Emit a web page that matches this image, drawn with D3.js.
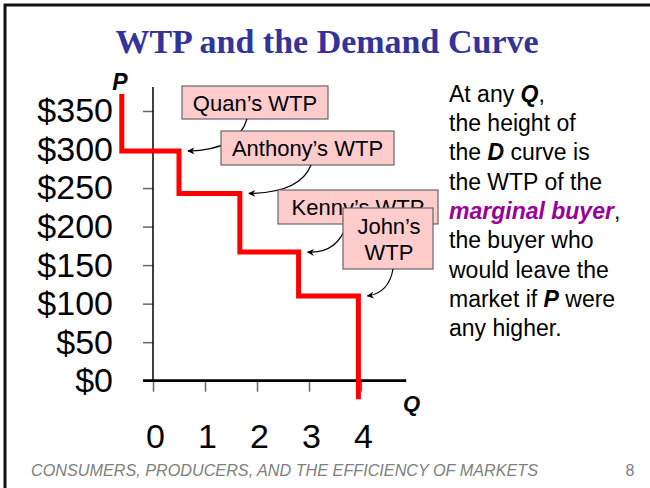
<!DOCTYPE html>
<html>
<head>
<meta charset="utf-8">
<title>WTP and the Demand Curve</title>
<script src="https://d3js.org/d3.v7.min.js"></script>
<style>
  body { margin: 0; background: #fff; }
  svg { display: block; font-family: "Liberation Sans", Arial, sans-serif; }
  .tick line { stroke: #666; stroke-width: 1.5; }
  .tick text { fill: #000; font-size: 34px; }
  .box rect { fill: #ffcccc; stroke: #666; stroke-width: 1.2; }
  .box text { font-size: 22px; fill: #000; text-anchor: middle; }
  .note { font-size: 23px; fill: #000; }
</style>
</head>
<body>
<svg id="chart" width="650" height="488"></svg>
<script>
// data
var qTicks = [0, 1, 2, 3, 4];
var pTicks = [0, 50, 100, 150, 200, 250, 300, 350];
// the step curve sits a little off the axis grid in the original
var stepQ = [-0.6, 0.5, 1.67, 2.8, 3.95];       // Q where each step drops
var stepP = [372, 298, 243, 167, 110, -24];     // P of each step (first = top, last = below axis)
var buyers = [["Quan\u2019s WTP"], ["Anthony\u2019s WTP"], ["Kenny\u2019s WTP"], ["John\u2019s", "WTP"]];

var noteLines = [
  [["At any ", ""], ["Q", "bi"], [",", ""]],
  [["the height of", ""]],
  [["the ", ""], ["D", "bi"], [" curve is", ""]],
  [["the WTP of the", ""]],
  [["marginal buyer", "mb"], [",", ""]],
  [["the buyer who", ""]],
  [["would leave the", ""]],
  [["market if ", ""], ["P", "bi"], [" were", ""]],
  [["any higher.", ""]]
];

var svg = d3.select("#chart");

// frame
svg.append("rect")
  .attr("x", 5).attr("y", 5).attr("width", 700).attr("height", 600)
  .attr("fill", "none").attr("stroke", "#111").attr("stroke-width", 3);

// title
svg.append("text")
  .attr("x", 327).attr("y", 53)
  .attr("text-anchor", "middle")
  .style("font-family", "'Liberation Serif', 'Times New Roman', serif")
  .style("font-weight", "bold").style("font-size", "34px")
  .attr("fill", "#333399")
  .text("WTP and the Demand Curve");

var x = d3.scaleLinear().domain([0, 4]).range([153, 361]);
var y = d3.scaleLinear().domain([0, 350]).range([380.7, 111]);

// y axis
var yAxis = svg.append("g")
  .attr("transform", "translate(" + x(0) + ",0)")
  .call(d3.axisLeft(y).tickValues(pTicks).tickSize(10).tickPadding(30)
    .tickFormat(function(d){ return "$" + d; }));
yAxis.select(".domain").remove();

svg.append("line")
  .attr("x1", x(0)).attr("x2", x(0))
  .attr("y1", y(0)).attr("y2", y(381))
  .attr("stroke", "#000").attr("stroke-width", 1.5);

// x axis
var xAxis = svg.append("g")
  .attr("transform", "translate(0," + y(0) + ")")
  .call(d3.axisBottom(x).tickValues(qTicks).tickSize(11).tickPadding(32)
    .tickFormat(d3.format("d")));
xAxis.select(".domain").remove();
xAxis.selectAll("text").attr("dx", 2);

svg.append("line")
  .attr("x1", x(0) - 10).attr("x2", x(4.87))
  .attr("y1", y(0)).attr("y2", y(0))
  .attr("stroke", "#000").attr("stroke-width", 2.8);

// axis letters
svg.append("text")
  .attr("x", 120).attr("y", 90).attr("text-anchor", "middle")
  .style("font-weight", "bold").style("font-style", "italic").style("font-size", "23px")
  .text("P");
svg.append("text")
  .attr("x", 403).attr("y", 411)
  .style("font-weight", "bold").style("font-style", "italic").style("font-size", "22px")
  .text("Q");

// demand steps
var verts = [];
stepQ.forEach(function(q, i){
  verts.push([q, stepP[i]]);
  verts.push([q, stepP[i + 1]]);
});
var line = d3.line()
  .x(function(d){ return x(d[0]); })
  .y(function(d){ return y(d[1]); });
svg.append("path")
  .attr("d", line(verts))
  .attr("fill", "none").attr("stroke", "#ff0000").attr("stroke-width", 5)
  .attr("stroke-linejoin", "miter");

// arrowhead
svg.append("defs").append("marker")
  .attr("id", "head").attr("viewBox", "0 0 10 10")
  .attr("refX", 9).attr("refY", 5)
  .attr("markerWidth", 7).attr("markerHeight", 7)
  .attr("markerUnits", "userSpaceOnUse")
  .attr("orient", "auto")
  .append("path").attr("d", "M0,0L10,5L0,10L3,5Z").attr("fill", "#000");

// callout boxes (layout) and arrows to each buyer's step
var boxes = [
  { x: 182, y: 86,  w: 146, h: 33, start: [247, 119], ctrl: [238, 150] },
  { x: 221, y: 131, w: 173, h: 34, start: [311, 165], ctrl: [300, 193] },
  { x: 278, y: 190, w: 160, h: 34, start: [347, 224], ctrl: [337, 254] },
  { x: 343, y: 208, w: 90,  h: 61, start: [393, 269], ctrl: [389, 293] }
];

boxes.forEach(function(b, i){
  var g = svg.append("g").attr("class", "box");
  g.append("rect").attr("x", b.x).attr("y", b.y).attr("width", b.w).attr("height", b.h);
  var lines = buyers[i];
  var lh = 26;
  var top = b.y + b.h / 2 - (lines.length - 1) * lh / 2 + 8;
  lines.forEach(function(t, j){
    g.append("text").attr("x", b.x + b.w / 2 + (lines.length > 1 ? 1 : 0))
      .attr("y", top + j * lh).text(t);
  });
  var tip = [x(stepQ[i + 1]) + 9, y(stepP[i + 1])];
  svg.append("path")
    .attr("d", "M" + b.start + "Q" + b.ctrl + " " + tip)
    .attr("fill", "none").attr("stroke", "#000").attr("stroke-width", 1.2)
    .attr("marker-end", "url(#head)");
});

// note text on the right
var note = svg.append("g").attr("class", "note");
noteLines.forEach(function(parts, i){
  var t = note.append("text").attr("x", 449).attr("y", 101.7 + i * 29.3);
  parts.forEach(function(p){
    var s = t.append("tspan").text(p[0]);
    if (p[1] === "bi") s.style("font-weight", "bold").style("font-style", "italic");
    if (p[1] === "mb") s.style("font-weight", "bold").style("font-style", "italic").attr("fill", "#990099");
  });
});

// footer
svg.append("text")
  .attr("x", 31).attr("y", 476)
  .style("font-style", "italic").style("font-size", "16.2px")
  .attr("fill", "#808080")
  .text("CONSUMERS, PRODUCERS, AND THE EFFICIENCY OF MARKETS");
svg.append("text")
  .attr("x", 630).attr("y", 476).attr("text-anchor", "middle")
  .style("font-size", "16px").attr("fill", "#808080")
  .text("8");
</script>
</body>
</html>
